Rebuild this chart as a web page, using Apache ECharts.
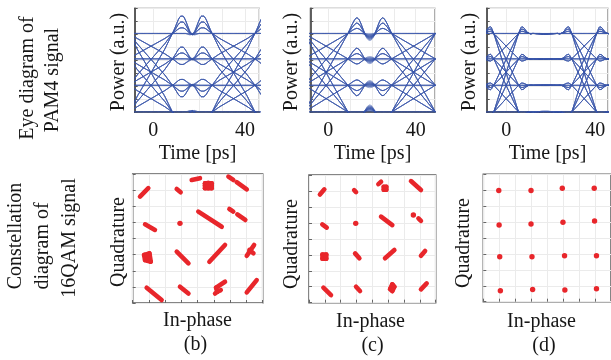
<!DOCTYPE html>
<html><head><meta charset="utf-8">
<script src="https://cdn.jsdelivr.net/npm/echarts@6/dist/echarts.min.js"></script>
<style>html,body{margin:0;padding:0;background:#fff}#c{width:611px;height:360px}</style>
</head><body><div id="c"></div>
<script>
// ================= DATA =================
// PAM4 power levels (a.u.)
const pam4Levels = [0, 1.03, 2.05, 3.03];
const eyeTickLabels = [0, 40];
// step responses read from the eyes, u = 0..24 ps after the transition centre; S(-u) = 1 - S(u)
const stepB = [0.5,0.55,0.6,0.65,0.7,0.75,0.8,0.86,0.92,0.98,1.04,1.11,1.18,1.22,1.22,1.17,1.10,1.03,0.99,0.98,0.99,1,1,1,1];
const stepC = [0.5,0.55,0.6,0.65,0.7,0.75,0.8,0.85,0.9,0.95,1.0,1.06,1.12,1.17,1.2,1.18,1.12,1.05,0.99,0.96,0.955,0.965,0.98,0.995,1.0];
const stepD = [0.5,0.59,0.68,0.77,0.86,0.95,1.03,1.085,1.07,1.03,1.005,0.995,1.0,0.998,0.996,0.994,0.993,0.994,0.996,0.998,1,1,1,1,1];
// symbol transition centres (ps)
const edgesB = [-1, 35];
const edgesC = [-1, 39];
const edgesD = [0, 35];
// time windows (ps)
const timeRangeB = [-8.11, 46.24];
const timeRangeC = [-8.24, 48.83];
const timeRangeD = [-8.73, 45.68];

// 16QAM constellations: streaks [[I1,Q1],[I2,Q2]] and single dots [I,Q]
const streaksB = [
 [[-3.55,2.60],[-3.04,3.12]], [[-1.29,3.07],[-1.05,2.87]], [[-0.37,3.63],[0.14,3.74]],
 [[0.45,3.43],[0.86,3.43]], [[0.45,3.12],[0.86,3.12]], [[0.45,3.28],[0.86,3.28]],
 [[0.45,3.12],[0.45,3.43]], [[0.86,3.12],[0.86,3.43]], [[0.65,3.12],[0.65,3.45]],
 [[1.89,3.84],[2.19,3.63]], [[2.40,3.49],[3.02,3.05]],
 [[-3.24,0.88],[-2.63,0.53]], [[0.04,1.67],[1.48,0.73]], [[1.95,1.83],[2.19,1.67]], [[2.44,1.50],[2.93,1.15]],
 [[-3.30,-1.02],[-2.97,-0.92]], [[-3.24,-1.34],[-2.89,-1.44]], [[-3.30,-1.02],[-3.24,-1.34]], [[-2.97,-0.92],[-2.89,-1.44]],
 [[-3.12,-1.00],[-3.08,-1.38]],
 [[-1.29,-0.82],[-0.57,-1.54]], [[0.72,-1.44],[1.68,-0.40]], [[3.47,-0.40],[3.02,-1.07]], [[3.18,-0.71],[3.43,-0.92]],
 [[-3.14,-3.05],[-2.22,-3.82]], [[-1.09,-2.99],[-0.57,-3.41]], [[1.68,-2.68],[1.13,-3.05]],
 [[1.21,-3.30],[1.42,-3.20]], [[1.07,-3.41],[1.21,-3.30]], [[1.13,-3.05],[1.21,-3.30]], [[3.02,-3.34],[3.63,-2.58]]
];
const dotsB = [[-1.09,0.94]];
const streaksC = [
 [[-3.31,2.78],[-3.03,3.10]], [[-1.15,3.05],[-1.03,2.93]], [[0.38,3.43],[0.55,3.58]],
 [[0.72,3.26],[0.88,3.26]], [[0.72,3.08],[0.88,3.08]], [[0.72,3.08],[0.72,3.26]], [[0.88,3.08],[0.88,3.26]],
 [[2.44,3.62],[3.07,3.06]],
 [[-3.16,0.91],[-2.88,0.70]], [[0.55,1.39],[1.26,0.86]], [[2.91,1.28],[3.07,1.12]],
 [[-3.15,-0.98],[-2.91,-0.98]], [[-3.15,-1.25],[-2.91,-1.25]], [[-3.15,-0.98],[-3.15,-1.25]], [[-2.91,-0.98],[-2.91,-1.25]],
 [[-1.09,-0.91],[-0.82,-1.22]],
 [[0.80,-1.22],[1.39,-0.70]], [[3.07,-1.06],[3.33,-0.76]],
 [[-3.09,-3.06],[-2.61,-3.52]], [[-1.03,-3.00],[-0.78,-3.27]], [[1.26,-2.85],[1.39,-3.00]],
 [[1.12,-3.14],[1.26,-3.27]], [[1.26,-2.85],[1.12,-3.14]], [[1.39,-3.00],[1.26,-3.27]], [[3.07,-3.16],[3.43,-2.79]]
];
const dotsC = [[-1.05,0.97],[2.59,1.49]];
const streaksD = [];
const dotsD = [
 [-3.03,2.98],[-1.01,2.98],[0.95,3.12],[2.95,3.12],
 [-3.01,0.82],[-1.01,0.88],[0.99,0.99],[2.97,1.07],
 [-2.97,-1.18],[-0.95,-1.18],[1.09,-1.11],[3.09,-1.11],
 [-2.93,-3.31],[-0.91,-3.23],[1.11,-3.27],[3.09,-3.19]
];

// ================= LAYOUT / STYLE =================
const SERIF = '"Liberation Serif","Times New Roman",serif';
const TXT = '#161616';
const EYE_BLUE = '#3a58ab';
const QAM_RED = '#e8262b';
const eyePanels = [
 {grid:{left:134.7, top:8.3, width:124.6, height:103.7}, range:timeRangeB, step:stepB, edges:edgesB},
 {grid:{left:310.3, top:8.3, width:124.7, height:103.7}, range:timeRangeC, step:stepC, edges:edgesC},
 {grid:{left:486.7, top:8.3, width:124.6, height:103.7}, range:timeRangeD, step:stepD, edges:edgesD}
];
const qamPanels = [
 {grid:{left:132.7, top:174, width:130, height:129}, streaks:streaksB, dots:dotsB},
 {grid:{left:309, top:175, width:126.7, height:127.7}, streaks:streaksC, dots:dotsC},
 {grid:{left:483.3, top:174.3, width:129.3, height:127.4}, streaks:streaksD, dots:dotsD}
];

function stepAt(arr, u) {
  if (u < 0) return 1 - stepAt(arr, -u);
  return u < arr.length ? arr[u] : 1;
}

const grids = [], xAxes = [], yAxes = [], series = [];
const gridLine = {show:true, lineStyle:{color:'#ebebeb', width:1}};

eyePanels.forEach((p, i) => {
  grids.push(Object.assign({show:true, borderColor:'#777', borderWidth:1.2, containLabel:false}, p.grid));
  xAxes.push({type:'value', gridIndex:i, position:'bottom', min:p.range[0], max:p.range[1], splitNumber:5,
    axisLine:{show:true, onZero:false, lineStyle:{color:'#3a3a3a', width:1.6}},
    axisTick:{show:false},
    splitLine:gridLine,
    axisLabel:{margin:9, fontFamily:SERIF, fontSize:20, color:TXT,
      formatter:v => eyeTickLabels.includes(v) ? String(v) : ''}
  });
  yAxes.push({type:'value', gridIndex:i, position:'left', min:0, max:4, interval:0.5,
    axisLine:{show:true, onZero:false, lineStyle:{color:'#3a3a3a', width:1.6}},
    axisTick:{show:true, inside:true, length:3, lineStyle:{color:'#555'}},
    splitLine:gridLine, axisLabel:{show:false}
  });
  const t0 = Math.floor(p.range[0]), t1 = Math.ceil(p.range[1]);
  pam4Levels.forEach(a => pam4Levels.forEach(b => pam4Levels.forEach(c => {
    const data = [];
    for (let t = t0; t <= t1; t++) {
      data.push([t, a + (b - a) * stepAt(p.step, t - p.edges[0]) + (c - b) * stepAt(p.step, t - p.edges[1])]);
    }
    series.push({type:'line', xAxisIndex:i, yAxisIndex:i, data, showSymbol:false, symbol:'none',
      silent:true, animation:false, clip:true, smooth:0.2,
      lineStyle:{color:EYE_BLUE, width:0.75, opacity:0.75}});
  })));
});

qamPanels.forEach((p, j) => {
  const i = j + 3;
  grids.push(Object.assign({show:true, borderColor:'#5e5e5e', borderWidth:1.5, containLabel:false}, p.grid));
  xAxes.push({type:'value', gridIndex:i, position:'bottom', min:-4, max:4, interval:1,
    axisLine:{show:false, onZero:false}, axisTick:{show:true, inside:true, length:3, lineStyle:{color:'#666'}},
    splitLine:gridLine, axisLabel:{show:false}});
  yAxes.push({type:'value', gridIndex:i, position:'left', min:-4, max:4, interval:1,
    axisLine:{show:false, onZero:false}, axisTick:{show:true, inside:true, length:3, lineStyle:{color:'#666'}},
    splitLine:gridLine, axisLabel:{show:false}});
  p.streaks.forEach(s => series.push({type:'line', xAxisIndex:i, yAxisIndex:i, data:s, symbol:'none',
    silent:true, animation:false, lineStyle:{color:QAM_RED, width:4.6, cap:'round', opacity:1}}));
  series.push({type:'scatter', xAxisIndex:i, yAxisIndex:i, data:p.dots, symbolSize:5.4,
    silent:true, animation:false, itemStyle:{color:QAM_RED, opacity:1}});
});

function vtext(text, x, y) {
  return {type:'text', x, y, rotation:Math.PI/2, silent:true,
    style:{text, fontFamily:SERIF, fontSize:20, fill:TXT, align:'center', verticalAlign:'middle'}};
}
function htext(text, x, y) {
  return {type:'text', x, y, silent:true,
    style:{text, fontFamily:SERIF, fontSize:20, fill:TXT, align:'center', verticalAlign:'middle'}};
}
const graphics = [
  vtext('Eye diagram of', 28, 78), vtext('PAM4 signal', 53, 80),
  vtext('Constellation', 16, 236), vtext('diagram of', 43, 246), vtext('16QAM signal', 70, 238),
  vtext('Power (a.u.)', 119, 62), vtext('Power (a.u.)', 292, 62), vtext('Power (a.u.)', 470, 62),
  htext('Time [ps]', 197.5, 154), htext('Time [ps]', 372.5, 154), htext('Time [ps]', 547.5, 154),
  vtext('Quadrature', 119, 242), vtext('Quadrature', 292, 244), vtext('Quadrature', 464, 243),
  htext('In-phase', 197.5, 321), htext('In-phase', 370.5, 322), htext('In-phase', 541.5, 322),
  htext('(b)', 195.5, 345), htext('(c)', 372.5, 346), htext('(d)', 544, 346)
];

const chart = echarts.init(document.getElementById('c'), null, {renderer:'canvas'});
chart.setOption({animation:false, backgroundColor:'#fff', grid:grids, xAxis:xAxes, yAxis:yAxes, series, graphic:graphics});
</script></body></html>
